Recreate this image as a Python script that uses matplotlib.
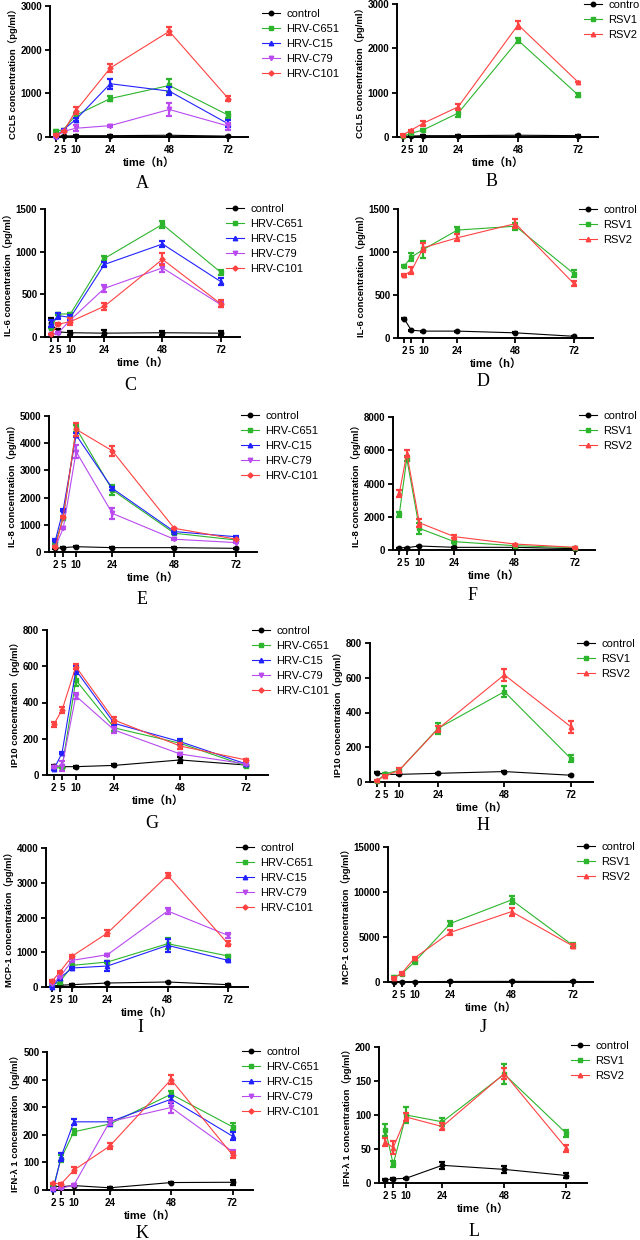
import matplotlib
matplotlib.use('Agg')
import matplotlib.pyplot as plt

# czasy pomiaru (h)
times = [2, 5, 10, 24, 48, 72]

hrv_names = ['control', 'HRV-C651', 'HRV-C15', 'HRV-C79', 'HRV-C101']
rsv_names = ['control', 'RSV1', 'RSV2']

# A - CCL5, HRV
ccl5_hrv = [[20, 20, 30, 30, 40, 20],
            [130, 170, 500, 880, 1180, 500],
            [20, 170, 400, 1220, 1050, 300],
            [10, 130, 200, 260, 630, 250],
            [50, 130, 600, 1580, 2420, 880]]
ccl5_hrv_err = [[5, 5, 10, 10, 10, 5],
                [20, 20, 60, 50, 140, 70],
                [5, 20, 40, 110, 90, 80],
                [5, 10, 70, 20, 150, 80],
                [10, 10, 80, 90, 90, 60]]
# B - CCL5, RSV
ccl5_rsv = [[20, 20, 30, 30, 40, 30],
            [20, 80, 160, 540, 2180, 950],
            [50, 150, 310, 680, 2530, 1240]]
ccl5_rsv_err = [[5, 5, 5, 5, 5, 5],
                [5, 10, 30, 100, 60, 50],
                [10, 10, 60, 60, 90, 10]]
# C - IL-6, HRV
il6_hrv = [[160, 60, 50, 45, 50, 45],
           [110, 270, 270, 920, 1320, 760],
           [160, 250, 230, 850, 1090, 650],
           [30, 50, 200, 570, 810, 380],
           [35, 150, 180, 360, 910, 390]]
il6_hrv_err = [[60, 30, 25, 35, 25, 25],
               [10, 10, 10, 30, 40, 30],
               [40, 35, 30, 30, 35, 45],
               [5, 10, 20, 45, 45, 25],
               [5, 10, 40, 40, 70, 40]]
# D - IL-6, RSV
il6_rsv = [[225, 90, 80, 80, 60, 20],
           [835, 940, 1030, 1255, 1300, 750],
           [730, 780, 1050, 1165, 1330, 635]]
il6_rsv_err = [[5, 5, 5, 5, 5, 5],
               [15, 50, 100, 40, 40, 40],
               [10, 40, 50, 40, 50, 30]]
# E - IL-8, HRV
il8_hrv = [[135, 160, 195, 160, 160, 135],
           [320, 1240, 4550, 2280, 690, 440],
           [440, 1550, 4300, 2340, 750, 560],
           [200, 870, 3690, 1420, 470, 345],
           [200, 1300, 4510, 3720, 870, 470]]
il8_hrv_err = [[10, 10, 15, 10, 10, 10],
               [20, 60, 120, 170, 30, 20],
               [20, 30, 60, 60, 30, 20],
               [20, 30, 250, 200, 30, 20],
               [20, 40, 230, 180, 30, 20]]
# F - IL-8, RSV
il8_rsv = [[140, 140, 240, 160, 160, 80],
           [2140, 5500, 1300, 500, 260, 140],
           [3400, 5800, 1640, 800, 360, 160]]
il8_rsv_err = [[10, 10, 10, 10, 10, 10],
               [150, 150, 350, 60, 30, 20],
               [200, 200, 250, 100, 30, 20]]
# G - IP10, HRV
ip10_hrv = [[50, 46, 46, 53, 83, 55],
            [37, 42, 524, 260, 175, 50],
            [31, 123, 579, 285, 184, 61],
            [46, 50, 436, 248, 116, 61],
            [280, 359, 598, 303, 160, 83]]
ip10_hrv_err = [[5, 5, 5, 5, 15, 5],
                [5, 5, 35, 15, 10, 5],
                [5, 5, 20, 15, 15, 5],
                [5, 30, 15, 15, 8, 5],
                [15, 15, 15, 15, 15, 5]]
# H - IP10, RSV
ip10_rsv = [[52, 44, 44, 50, 60, 39],
            [4, 48, 67, 308, 520, 135],
            [10, 35, 67, 305, 617, 318]]
ip10_rsv_err = [[3, 3, 3, 3, 3, 3],
                [3, 5, 10, 30, 30, 20],
                [3, 5, 15, 15, 35, 35]]
# I - MCP-1, HRV
mcp1_hrv = [[30, 50, 67, 115, 144, 67],
            [67, 144, 623, 719, 1247, 892],
            [0, 259, 547, 604, 1199, 767],
            [96, 288, 767, 930, 2187, 1486],
            [173, 432, 892, 1554, 3213, 1247]]
mcp1_hrv_err = [[5, 5, 5, 5, 10, 5],
                [10, 60, 40, 40, 150, 30],
                [5, 15, 40, 150, 180, 20],
                [10, 10, 40, 30, 100, 80],
                [15, 15, 30, 90, 80, 70]]
# J - MCP-1, RSV
mcp1_rsv = [[30, 40, 40, 60, 70, 60],
            [560, 930, 2230, 6510, 9120, 4090],
            [480, 1000, 2680, 5510, 7820, 4020]]
mcp1_rsv_err = [[5, 5, 5, 5, 5, 5],
                [150, 100, 150, 300, 400, 200],
                [100, 100, 100, 300, 450, 200]]
# K - IFN-λ1, HRV
ifn_hrv = [[14, 12, 16, 8, 27, 28],
           [12, 114, 211, 239, 347, 229],
           [4, 120, 247, 247, 329, 195],
           [2, 6, 18, 247, 299, 139],
           [24, 22, 72, 159, 400, 127]]
ifn_hrv_err = [[2, 2, 2, 2, 3, 10],
               [3, 12, 10, 8, 10, 12],
               [2, 15, 10, 15, 12, 15],
               [2, 2, 3, 10, 20, 5],
               [3, 3, 12, 12, 17, 10]]
# L - IFN-λ1, RSV
ifn_rsv = [[5, 6, 7, 26, 20, 11],
           [78, 28, 100, 90, 160, 73],
           [60, 52, 97, 83, 161, 51]]
ifn_rsv_err = [[1, 1, 1, 5, 5, 4],
               [9, 5, 12, 6, 15, 5],
               [6, 10, 6, 5, 8, 5]]

# style serii
hrv_colors = ['black', '#2db52d', '#2222ff', '#b84af0', '#ff4242']
hrv_markers = ['o', 's', '^', 'v', 'D']
rsv_colors = ['black', '#2db52d', '#ff4242']
rsv_markers = ['o', 's', '^']

sans = ['Liberation Sans', 'Noto Sans CJK SC', 'DejaVu Sans']
plt.rcParams['font.family'] = sans
plt.rcParams['font.weight'] = 'bold'

W, H = 640, 1240
fig = plt.figure(figsize=(W / 100, H / 100), dpi=100)


def px_axes(left, top, right, bottom):
    return fig.add_axes([left / W, 1 - bottom / H, (right - left) / W, (bottom - top) / H])


def draw_panel(box, values, errors, names, colors, markers, ylabel, ymax, ystep,
               legend_xy, letter, letter_xy):
    ax = px_axes(*box)
    for vals, errs, name, c, m in zip(values, errors, names, colors, markers):
        ms = 2.6 if m == 'D' else 3.2
        ax.plot(times, vals, color=c, lw=0.8, marker=m, ms=ms, label=name,
                clip_on=False, zorder=3)
        ax.errorbar(times, vals, yerr=errs, fmt='none', ecolor=c, elinewidth=1.6,
                    capsize=2.5, capthick=1.6, clip_on=False, zorder=3)
    ax.set_xlim(-0.5, 80)
    ax.set_ylim(0, ymax)
    ax.set_xticks(times)
    ax.set_yticks(range(0, ymax + 1, ystep))
    ax.spines['top'].set_visible(False)
    ax.spines['right'].set_visible(False)
    ax.spines['left'].set_linewidth(1.4)
    ax.spines['bottom'].set_linewidth(1.4)
    ax.tick_params(width=1.3, length=3.5, labelsize=7, pad=2)
    ax.set_xlabel('time（h）', fontsize=8, fontweight='bold', labelpad=2)
    ax.set_ylabel(ylabel, fontsize=6.8, fontweight='bold', labelpad=2)
    ax.legend(loc='upper left', bbox_to_anchor=(legend_xy[0] / W, 1 - legend_xy[1] / H),
              bbox_transform=fig.transFigure, frameon=False, borderpad=0,
              borderaxespad=0, handlelength=1.6, handletextpad=0.6,
              labelspacing=0.45, prop={'family': sans, 'size': 8, 'weight': 'normal'})
    fig.text(letter_xy[0] / W, 1 - letter_xy[1] / H, letter, ha='center', va='center',
             family='Liberation Serif', fontweight='normal', fontsize=13)
    return ax


draw_panel((50, 6, 248, 137), ccl5_hrv, ccl5_hrv_err, hrv_names, hrv_colors, hrv_markers,
           'CCL5 concentration（pg/ml）', 3000, 1000, (262, 9), 'A', (142, 183))
draw_panel((397, 4, 598, 137), ccl5_rsv, ccl5_rsv_err, rsv_names, rsv_colors, rsv_markers,
           'CCL5 concentration（pg/ml）', 3000, 1000, (584, 0), 'B', (492, 182))
draw_panel((45, 209, 240, 337), il6_hrv, il6_hrv_err, hrv_names, hrv_colors, hrv_markers,
           'IL-6 concentration（pg/ml）', 1500, 500, (226, 204), 'C', (130, 386))
draw_panel((398, 209, 593, 338), il6_rsv, il6_rsv_err, rsv_names, rsv_colors, rsv_markers,
           'IL-6 concentration（pg/ml）', 1500, 500, (579, 205), 'D', (483, 382))
draw_panel((49, 416, 257, 552), il8_hrv, il8_hrv_err, hrv_names, hrv_colors, hrv_markers,
           'IL-8 concentration（pg/ml）', 5000, 1000, (241, 411), 'E', (142, 600))
draw_panel((393, 417, 595, 550), il8_rsv, il8_rsv_err, rsv_names, rsv_colors, rsv_markers,
           'IL-8 concentration（pg/ml）', 8000, 2000, (579, 411), 'F', (473, 595))
draw_panel((47, 630, 268, 775), ip10_hrv, ip10_hrv_err, hrv_names, hrv_colors, hrv_markers,
           'IP10 concentration（pg/ml）', 800, 200, (252, 626), 'G', (152, 824))
draw_panel((370, 643, 593, 782), ip10_rsv, ip10_rsv_err, rsv_names, rsv_colors, rsv_markers,
           'IP10 concentration（pg/ml）', 800, 200, (577, 639), 'H', (483, 825))
draw_panel((46, 848, 248, 987), mcp1_hrv, mcp1_hrv_err, hrv_names, hrv_colors, hrv_markers,
           'MCP-1 concentration（pg/ml）', 4000, 1000, (236, 843), 'I', (140, 1028))
draw_panel((388, 847, 593, 982), mcp1_rsv, mcp1_rsv_err, rsv_names, rsv_colors, rsv_markers,
           'MCP-1 concentration（pg/ml）', 15000, 5000, (577, 842), 'J', (483, 1027))
draw_panel((47, 1052, 253, 1190), ifn_hrv, ifn_hrv_err, hrv_names, hrv_colors, hrv_markers,
           'IFN-λ 1 concentration（pg/ml）', 500, 100, (242, 1047), 'K', (142, 1233))
draw_panel((379, 1047, 587, 1183), ifn_rsv, ifn_rsv_err, rsv_names, rsv_colors, rsv_markers,
           'IFN-λ 1 concentration（pg/ml）', 200, 50, (571, 1041), 'L', (474, 1232))

fig.savefig('out.png', dpi=100)
